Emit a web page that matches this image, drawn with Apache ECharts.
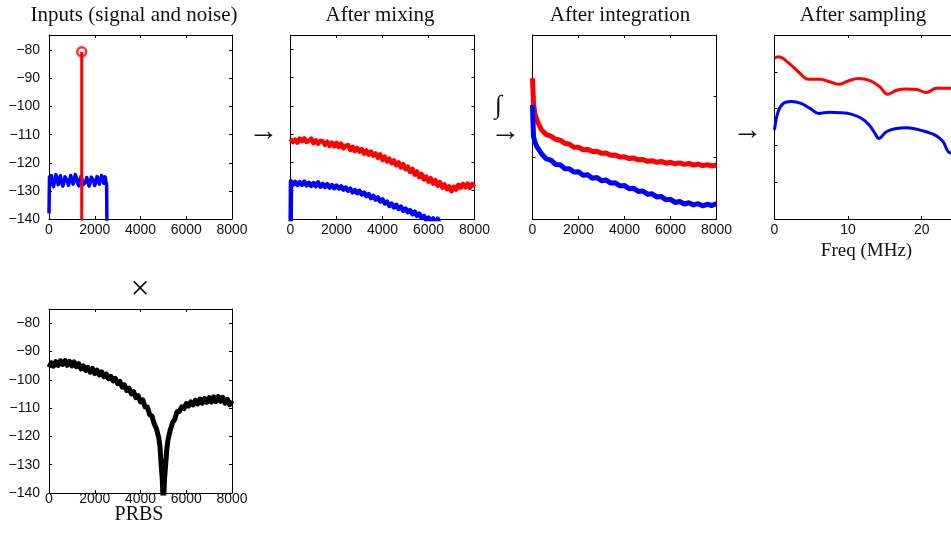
<!DOCTYPE html>
<html>
<head>
<meta charset="utf-8">
<script src="https://cdn.jsdelivr.net/npm/echarts@6/dist/echarts.min.js"></script>
<style>
html,body{margin:0;padding:0;background:#fff;}
#chart{width:951px;height:536px;}
</style>
</head>
<body>
<div id="chart"></div>
<script>
// ---------- data ----------
const panelTitles = ['Inputs (signal and noise)', 'After mixing', 'After integration', 'After sampling'];

// Panel 1: inputs
const signalFreq = 1430;
const signalDb = -80.5;
const inputNoiseX = [0,20,50,100,150,200,250,300,350,400,450,500,550,600,650,700,750,800,850,900,950,1000,1050,1100,1150,1200,1250,1300,1350,1400,1450,1500,1550,1600,1650,1700,1750,1800,1850,1900,1950,2000,2050,2100,2150,2200,2250,2300,2350,2400,2450,2480,2520,2540];
const inputNoiseDb = [-138,-125,-126.5,-124.5,-127.5,-128.5,-126,-124.2,-125.5,-127.8,-126.2,-124.6,-126.8,-128.3,-127,-125,-124.3,-126.5,-128,-126.3,-124.5,-125.8,-127.6,-126.4,-124.2,-125.3,-127.2,-128.2,-126.5,-124.8,-126.2,-127.8,-128.4,-126.8,-125.2,-126.9,-128.3,-127.2,-125.1,-124.4,-126.4,-128.1,-126.6,-124.9,-125.8,-127.6,-126.2,-124.5,-125.6,-127.3,-125.0,-124.6,-128,-150];

// Panel 2: after mixing
const mixX = [0,100,200,300,400,500,600,700,800,900,1000,1100,1200,1300,1400,1500,1600,1700,1800,1900,2000,2100,2200,2300,2400,2500,2600,2700,2800,2900,3000,3100,3200,3300,3400,3500,3600,3700,3800,3900,4000,4100,4200,4300,4400,4500,4600,4700,4800,4900,5000,5100,5200,5300,5400,5500,5600,5700,5800,5900,6000,6100,6200,6300,6400,6500,6600,6700,6800,6900,7000,7100,7200,7300,7400,7500,7600,7700,7800,7900,8000];
const mixSignalDb = [-111.7,-112.8,-112.0,-113.0,-111.6,-112.5,-111.5,-112.8,-112.3,-111.6,-113.2,-112.2,-113.4,-112.4,-112.5,-113.8,-112.7,-114.2,-113.0,-114.3,-113.1,-114.6,-113.4,-115.0,-114.2,-113.9,-115.6,-114.5,-116.0,-114.9,-116.2,-115.3,-116.9,-115.8,-117.3,-116.2,-117.6,-116.8,-118.4,-117.2,-119.1,-118.0,-119.7,-118.7,-120.3,-119.3,-121.0,-120.0,-121.8,-120.6,-122.4,-121.5,-123.4,-122.3,-124.3,-123.2,-125.2,-124.1,-126.0,-125.0,-126.8,-125.6,-127.5,-126.3,-128.2,-127.0,-128.9,-127.8,-129.5,-128.5,-130.2,-128.6,-129.6,-127.9,-128.9,-127.6,-128.8,-127.5,-129.0,-127.7,-128.6];
const mixNoiseX = [0,20,100,200,300,400,500,600,700,800,900,1000,1100,1200,1300,1400,1500,1600,1700,1800,1900,2000,2100,2200,2300,2400,2500,2600,2700,2800,2900,3000,3100,3200,3300,3400,3500,3600,3700,3800,3900,4000,4100,4200,4300,4400,4500,4600,4700,4800,4900,5000,5100,5200,5300,5400,5500,5600,5700,5800,5900,6000,6100,6200,6300,6400,6500,6600];
const mixNoiseDb = [-150,-126.7,-127.9,-126.9,-128.0,-127.0,-127.9,-126.8,-128.1,-127.2,-128.3,-127.3,-128.4,-127.1,-128.6,-127.6,-128.7,-127.7,-128.9,-128.0,-129.1,-128.2,-129.2,-128.5,-129.6,-128.9,-130.0,-129.3,-130.6,-129.8,-130.9,-130.1,-131.3,-130.7,-131.9,-131.2,-132.6,-131.8,-133.1,-132.4,-133.8,-133.1,-134.5,-133.9,-135.4,-134.6,-135.9,-135.0,-136.4,-135.6,-137.1,-136.3,-137.6,-136.9,-138.3,-137.4,-138.9,-138.1,-139.6,-138.9,-140.3,-139.5,-141.0,-139.8,-141.5,-139.9,-142,-142];

// Panel 3: after integration
const intX = [0,20,45,100,190,300,400,600,800,1000,1200,1400,1600,1800,2000,2200,2400,2600,2800,3000,3200,3400,3600,3800,4000,4200,4400,4600,4800,5000,5200,5400,5600,5800,6000,6200,6400,6600,6800,7000,7200,7400,7600,7800,8000];
const intSignalDb = [-104.1,-108.0,-112.3,-115.5,-117.7,-119.6,-121.0,-122.5,-123.0,-124.0,-124.3,-125.3,-125.6,-126.6,-126.6,-127.4,-127.3,-128.0,-127.9,-128.6,-128.5,-129.2,-129.1,-129.8,-129.7,-130.3,-130.1,-130.7,-130.6,-131.2,-131.0,-131.5,-131.2,-131.8,-131.5,-132.0,-131.7,-132.2,-131.9,-132.4,-132.1,-132.6,-132.3,-132.7,-132.4];
const intNoiseDb = [-112.8,-118.0,-123.2,-124.8,-126.4,-127.6,-128.8,-130.4,-130.8,-132.2,-132.3,-133.6,-133.6,-134.7,-134.6,-135.7,-135.6,-136.7,-136.5,-137.5,-137.3,-138.3,-138.2,-139.2,-139.1,-140.1,-140.0,-141.0,-140.9,-141.9,-141.8,-142.8,-142.7,-143.7,-143.6,-144.6,-144.3,-145.1,-144.7,-145.4,-145.0,-145.7,-145.2,-145.6,-145.0];

// Panel 4: after sampling (MHz)
const sampSignalX = [0,0.5,2.1,3.45,4.6,6.2,7.5,8.7,10.0,11.4,13.0,14.3,15.4,16.6,17.9,19.3,20.6,22.0,23.8,25];
const sampSignalDb = [-86.3,-85.9,-87.9,-90.4,-92.0,-92.0,-92.7,-93.4,-92.5,-91.8,-92.4,-94.1,-96.1,-95.0,-94.7,-94.8,-95.6,-94.5,-94.5,-94.5];
const sampNoiseX = [0,0.5,1.2,2.3,3.6,4.8,6.0,7.5,8.9,10.4,11.8,12.9,13.6,14.2,15.2,16.6,17.9,19.3,20.6,22.0,22.9,23.6,24.1,25];
const sampNoiseDb = [-105.8,-100.8,-98.6,-98.1,-98.6,-99.9,-101.3,-101.0,-101.1,-101.5,-102.6,-104.5,-106.6,-108.1,-106.3,-105.4,-105.2,-105.6,-106.3,-107.4,-109.0,-111.7,-112.1,-112.1];

// Panel 5: PRBS
const prbsX = [0,100,200,300,400,500,600,700,800,900,1000,1100,1200,1300,1400,1500,1600,1700,1800,1900,2000,2100,2200,2300,2400,2500,2600,2700,2800,2900,3000,3100,3200,3300,3400,3500,3600,3700,3800,3900,4000,4100,4200,4300,4400,4500,4600,4700,4800,4850,4900,4950,5000,5050,5100,5150,5200,5300,5400,5500,5600,5700,5800,5900,6000,6100,6200,6300,6400,6500,6600,6700,6800,6900,7000,7100,7200,7300,7400,7500,7600,7700,7800,7900,8000];
const prbsDb = [-95.6,-94.0,-95.2,-93.6,-94.9,-93.3,-94.6,-93.2,-94.9,-93.5,-95.1,-93.7,-95.4,-94.3,-96.2,-95.1,-96.7,-95.6,-97.3,-96.0,-97.8,-96.6,-98.3,-97.2,-98.9,-97.9,-99.6,-98.8,-100.4,-99.5,-101.4,-100.6,-102.6,-101.8,-103.8,-103.0,-105.0,-104.2,-106.3,-105.6,-107.8,-107.1,-109.6,-109.6,-112.3,-112.8,-115.6,-117.3,-120.5,-123.5,-129.5,-135,-145,-135,-130,-124.5,-121.3,-117.8,-115.2,-113.9,-111.3,-111.2,-109.6,-110.2,-108.4,-109.3,-107.8,-108.9,-107.2,-108.5,-106.8,-108.3,-106.6,-108.0,-106.3,-107.9,-106.0,-107.7,-105.9,-107.6,-106.2,-108.3,-106.9,-108.8,-107.4];

// ---------- layout ----------
const grids = [
  {left: 49,    top: 35,  width: 183, height: 184}, // inputs
  {left: 290.5, top: 35,  width: 184, height: 184}, // mixing
  {left: 532.5, top: 35,  width: 184, height: 184}, // integration
  {left: 774.5, top: 35,  width: 184, height: 184}, // sampling
  {left: 49,    top: 309, width: 183, height: 184}  // PRBS
];
const xRanges = [[0,8000,2000],[0,8000,2000],[0,8000,2000],[0,25,10],[0,8000,2000]];
const yRanges = [[-140,-74.5,10],[-140,-75,10],[-150,-90,20],[-130,-80,10],[-140,-75,10]];
const yLabelsOn = [true,false,false,false,true];
const xLabelMargin = [4,4,4,4,-1];
const titleCenters = [134, 380, 620, 863];

const fmt = v => String(v).replace('-', '\u2212');
const tickFont = {color:'#111', fontFamily:'"Liberation Sans", Arial, sans-serif', fontSize:14};
const lineStyle = {color:'#000', width:1};

const xAxes = [], yAxes = [];
grids.forEach((g, i) => {
  const [xmin, xmax, xint] = xRanges[i];
  const [ymin, ymax, yint] = yRanges[i];
  const common = {type:'value', gridIndex:i, splitLine:{show:false},
    axisLine:{show:true, onZero:false, lineStyle},
    axisTick:{show:true, inside:true, length:3, lineStyle}};
  xAxes.push(Object.assign({}, common, {position:'bottom', min:xmin, max:xmax, interval:xint,
    axisLabel:Object.assign({show:true, margin:xLabelMargin[i], formatter:fmt, showMaxLabel: i !== 3}, tickFont)}));
  xAxes.push(Object.assign({}, common, {position:'top', min:xmin, max:xmax, interval:xint, axisLabel:{show:false}}));
  yAxes.push(Object.assign({}, common, {position:'left', min:ymin, max:ymax, interval:yint,
    axisLabel:Object.assign({show:yLabelsOn[i], margin:9, formatter:fmt, showMaxLabel:false}, tickFont)}));
  yAxes.push(Object.assign({}, common, {position:'right', min:ymin, max:ymax, interval:yint, axisLabel:{show:false}}));
});

const zip = (xs, ys) => xs.map((x, k) => [x, ys[k]]);
function lineSeries(panel, xs, ys, color, width, smooth) {
  return {type:'line', xAxisIndex:panel*2, yAxisIndex:panel*2, data:zip(xs, ys),
    showSymbol:false, symbol:'none', smooth:smooth || false, clip:true,
    lineStyle:{color, width, join:'round'}, silent:true};
}

const series = [
  lineSeries(0, inputNoiseX, inputNoiseDb, '#0000ff', 3.5),
  lineSeries(0, [signalFreq, signalFreq], [-150, signalDb], '#ff0000', 3),
  {type:'scatter', xAxisIndex:0, yAxisIndex:0, data:[[signalFreq, signalDb]], symbol:'circle', symbolSize:9,
    itemStyle:{color:'#fff', borderColor:'#ff0000', borderWidth:2.5}, silent:true},
  lineSeries(1, mixX, mixSignalDb, '#ff0000', 4.5),
  lineSeries(1, mixNoiseX, mixNoiseDb, '#0000ff', 4.5),
  lineSeries(2, intX, intSignalDb, '#ff0000', 5),
  lineSeries(2, intX, intNoiseDb, '#0000ff', 5),
  lineSeries(3, sampSignalX, sampSignalDb, '#ff0000', 3, 0.4),
  lineSeries(3, sampNoiseX, sampNoiseDb, '#0000ff', 3, 0.4),
  lineSeries(4, prbsX, prbsDb, '#000000', 5)
];

const serif = '"Liberation Serif", "Times New Roman", serif';
function txt(text, x, y, size, extra) {
  return {type:'text', x, y, silent:true, style:Object.assign({text, fill:'#111',
    font: size + 'px ' + serif, textAlign:'center', textVerticalAlign:'middle', verticalAlign:'middle'}, extra || {})};
}
const graphics = [];
panelTitles.forEach((t, i) => graphics.push(txt(t, titleCenters[i], 15, 21)));
graphics.push(txt('Freq (MHz)', 866.5, 251, 19));
graphics.push(txt('PRBS', 139, 515, 20));
graphics.push(txt('\u2192', 263.5, 132, 30));
graphics.push(txt('\u2192', 505.5, 132, 30));
graphics.push(txt('\u2192', 747.5, 131.5, 30));
graphics.push(txt('\u222B', 498.5, 106, 26, {font:'italic 26px ' + serif}));
graphics.push(txt('\u00D7', 140, 290, 34));

const chart = echarts.init(document.getElementById('chart'), null, {renderer:'canvas'});
chart.setOption({
  animation:false,
  backgroundColor:'#fff',
  grid: grids.map(g => Object.assign({containLabel:false, outerBoundsMode:'none'}, g)),
  xAxis: xAxes,
  yAxis: yAxes,
  series,
  graphic: graphics
});
</script>
</body>
</html>
